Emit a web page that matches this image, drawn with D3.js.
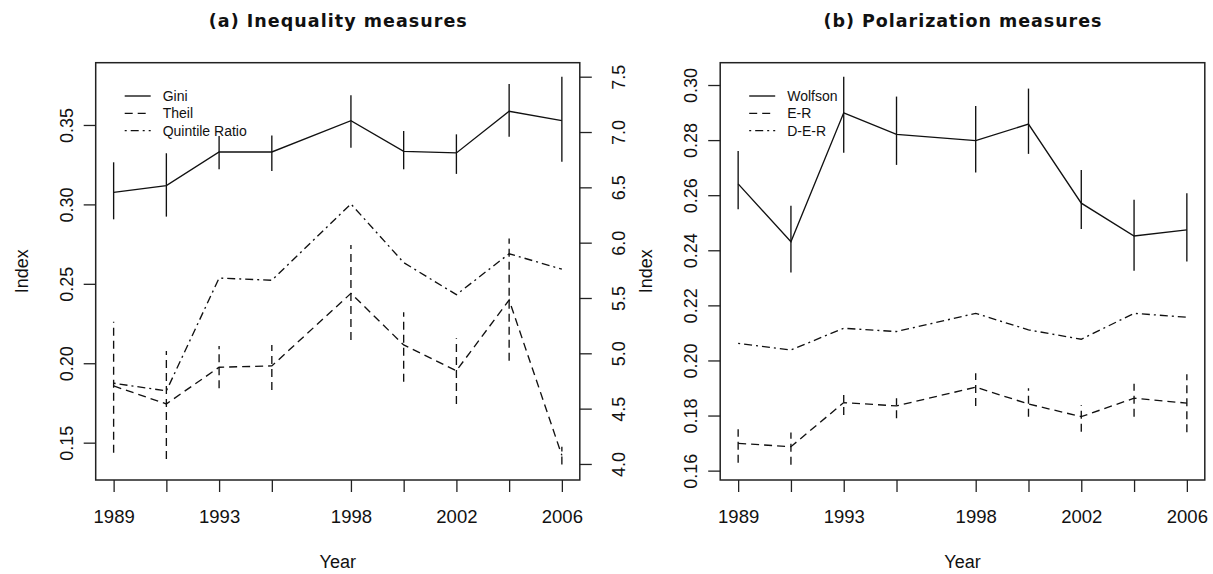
<!DOCTYPE html>
<html>
<head>
<meta charset="utf-8">
<script src="https://cdn.jsdelivr.net/npm/d3@7"></script>
<style>
  html, body { margin: 0; padding: 0; background: #fff; }
  svg { display: block; }
  text { fill: #111; }
</style>
</head>
<body>
<svg id="chart" width="1213" height="574"></svg>
<script>
// ---------- data ----------
const years = [1989, 1991, 1993, 1995, 1998, 2000, 2002, 2004, 2006];
const yearLabels = [1989, 1993, 1998, 2002, 2006];

// (a) Inequality measures
const giniVal = [0.3076, 0.3118, 0.3330, 0.3330, 0.3527, 0.3334, 0.3324, 0.3586, 0.3527];
const giniLo  = [0.2906, 0.2923, 0.3221, 0.3210, 0.3357, 0.3221, 0.3192, 0.3426, 0.3269];
const giniHi  = [0.3265, 0.3322, 0.3431, 0.3433, 0.3687, 0.3462, 0.3441, 0.3758, 0.3804];

const theilVal = [0.1857, 0.1744, 0.1975, 0.1983, 0.2440, 0.2115, 0.1953, 0.2398, 0.1420];
const theilLo  = [0.1437, 0.1397, 0.1842, 0.1832, 0.2146, 0.1884, 0.1744, 0.2015, 0.1362];
const theilHi  = [0.2261, 0.2077, 0.2109, 0.2115, 0.2745, 0.2321, 0.2157, 0.2786, 0.1475];

const quintileVal = [4.73, 4.66, 5.68, 5.66, 6.35, 5.82, 5.53, 5.90, 5.76];

// (b) Polarization measures
const wolfsonVal = [0.2641, 0.2431, 0.2899, 0.2821, 0.2798, 0.2858, 0.2571, 0.2452, 0.2474];
const wolfsonLo  = [0.2549, 0.2319, 0.2754, 0.2710, 0.2682, 0.2750, 0.2477, 0.2326, 0.2359];
const wolfsonHi  = [0.2760, 0.2562, 0.3030, 0.2958, 0.2924, 0.2987, 0.2691, 0.2583, 0.2607];

const erVal = [0.1699, 0.1687, 0.1847, 0.1835, 0.1903, 0.1842, 0.1796, 0.1863, 0.1845];
const erLo  = [0.1629, 0.1621, 0.1802, 0.1790, 0.1835, 0.1796, 0.1741, 0.1796, 0.1739];
const erHi  = [0.1750, 0.1738, 0.1875, 0.1863, 0.1954, 0.1899, 0.1838, 0.1915, 0.1950];

const derVal = [0.2062, 0.2038, 0.2117, 0.2105, 0.2171, 0.2111, 0.2077, 0.2171, 0.2157];

// tick labels
const leftTicksA = [0.15, 0.20, 0.25, 0.30, 0.35];
const rightTicksA = [4.0, 4.5, 5.0, 5.5, 6.0, 6.5, 7.0, 7.5];
const ticksB = [0.16, 0.18, 0.20, 0.22, 0.24, 0.26, 0.28, 0.30];

// ---------- layout / styles ----------
const H_TOP = 62.7, H_BOT = 480;
const panelA = { x0: 95.7, x1: 579.8 };
const panelB = { x0: 720.2, x1: 1204.8 };
const xDomain = [1988.32, 2006.68];

const styles = {
  solid: null,
  dashed: "8,5",
  dashdot: "2,4,8,4"
};
const LW = 1.35;
const FONT = "'Liberation Sans', Arial, sans-serif";

const svg = d3.select("#chart");

function drawPanel(p, opts) {
  const g = svg.append("g");
  const x = d3.scaleLinear().domain(xDomain).range([p.x0, p.x1]);
  const y = d3.scaleLinear().domain(opts.yDomain).range([H_BOT, H_TOP]);

  // x axis
  const xAxis = d3.axisBottom(x)
    .tickValues(years)
    .tickSize(12)
    .tickFormat(d => yearLabels.includes(d) ? String(d) : "");
  const gx = g.append("g").attr("transform", `translate(0,${H_BOT})`).call(xAxis);
  gx.select(".domain").remove();
  gx.selectAll(".tick line").attr("stroke", "#222").attr("stroke-width", 1.3);
  gx.selectAll(".tick text")
    .attr("y", 43).attr("dy", 0)
    .attr("font-family", FONT).attr("font-size", 18.5).attr("fill", "#111");

  // left y axis
  const yAxis = d3.axisLeft(y).tickValues(opts.yTicks).tickSize(12).tickFormat(d3.format(".2f"));
  const gy = g.append("g").attr("transform", `translate(${p.x0},0)`).call(yAxis);
  gy.select(".domain").remove();
  gy.selectAll(".tick line").attr("stroke", "#222").attr("stroke-width", 1.3);
  gy.selectAll(".tick text")
    .attr("x", 0).attr("dy", 0).attr("y", 0)
    .attr("text-anchor", "middle")
    .attr("transform", "translate(-23,0) rotate(-90)")
    .attr("font-family", FONT).attr("font-size", 18).attr("fill", "#111");

  // optional right axis
  let y2 = null;
  if (opts.y2Domain) {
    y2 = d3.scaleLinear().domain(opts.y2Domain).range([H_BOT, H_TOP]);
    const yAxis2 = d3.axisRight(y2).tickValues(opts.y2Ticks).tickSize(12).tickFormat(d3.format(".1f"));
    const gy2 = g.append("g").attr("transform", `translate(${p.x1},0)`).call(yAxis2);
    gy2.select(".domain").remove();
    gy2.selectAll(".tick line").attr("stroke", "#222").attr("stroke-width", 1.3);
    gy2.selectAll(".tick text")
      .attr("x", 0).attr("dy", 0).attr("y", 0)
      .attr("text-anchor", "middle")
      .attr("transform", "translate(45.5,0) rotate(-90)")
      .attr("font-family", FONT).attr("font-size", 18).attr("fill", "#111");
  }

  // series
  opts.series.forEach(s => {
    const sc = s.axis === 2 ? y2 : y;
    const pts = years.map((yr, i) => [yr, s.val[i]]);
    const line = d3.line().x(d => x(d[0])).y(d => sc(d[1]));
    g.append("path")
      .attr("d", line(pts))
      .attr("fill", "none")
      .attr("stroke", "#111")
      .attr("stroke-width", LW)
      .attr("stroke-dasharray", styles[s.style]);
    if (s.lo) {
      g.selectAll(null).data(years).enter().append("line")
        .attr("x1", d => x(d)).attr("x2", d => x(d))
        .attr("y1", (d, i) => sc(s.lo[i])).attr("y2", (d, i) => sc(s.hi[i]))
        .attr("stroke", "#111").attr("stroke-width", LW)
        .attr("stroke-dasharray", styles[s.style]);
    }
  });

  // box
  g.append("rect")
    .attr("x", p.x0).attr("y", H_TOP)
    .attr("width", p.x1 - p.x0).attr("height", H_BOT - H_TOP)
    .attr("fill", "none").attr("stroke", "#222").attr("stroke-width", 1.5);

  // title
  g.append("text")
    .attr("x", (p.x0 + p.x1) / 2).attr("y", 27)
    .attr("text-anchor", "middle")
    .attr("font-family", "'DejaVu Sans', Verdana, sans-serif")
    .attr("font-weight", "bold").attr("font-size", 17.5)
    .attr("textLength", opts.titleLen).attr("lengthAdjust", "spacing")
    .text(opts.title);

  // axis labels
  g.append("text")
    .attr("x", (p.x0 + p.x1) / 2).attr("y", 567.5)
    .attr("text-anchor", "middle")
    .attr("font-family", FONT).attr("font-size", 18)
    .text("Year");
  g.append("text")
    .attr("transform", `translate(${p.x0 - 68},${(H_TOP + H_BOT) / 2}) rotate(-90)`)
    .attr("text-anchor", "middle")
    .attr("font-family", FONT).attr("font-size", 18)
    .text("Index");

  // legend
  const lg = g.append("g");
  opts.series.forEach((s, i) => {
    const ly = 96 + i * 17.3;
    lg.append("line")
      .attr("x1", p.x0 + 29).attr("x2", p.x0 + 55)
      .attr("y1", ly).attr("y2", ly)
      .attr("stroke", "#111").attr("stroke-width", LW)
      .attr("stroke-dasharray", styles[s.style]);
    lg.append("text")
      .attr("x", p.x0 + 67).attr("y", ly + 5)
      .attr("font-family", FONT).attr("font-size", 14)
      .text(s.name);
  });
}

drawPanel(panelA, {
  title: "(a) Inequality measures",
  titleLen: 258,
  yDomain: [0.1265, 0.3892],
  yTicks: leftTicksA,
  y2Domain: [3.855, 7.6265],
  y2Ticks: rightTicksA,
  series: [
    { name: "Gini", val: giniVal, lo: giniLo, hi: giniHi, style: "solid", axis: 1 },
    { name: "Theil", val: theilVal, lo: theilLo, hi: theilHi, style: "dashed", axis: 1 },
    { name: "Quintile Ratio", val: quintileVal, style: "dashdot", axis: 2 }
  ]
});

drawPanel(panelB, {
  title: "(b) Polarization measures",
  titleLen: 278,
  yDomain: [0.1566, 0.3081],
  yTicks: ticksB,
  series: [
    { name: "Wolfson", val: wolfsonVal, lo: wolfsonLo, hi: wolfsonHi, style: "solid", axis: 1 },
    { name: "E-R", val: erVal, lo: erLo, hi: erHi, style: "dashed", axis: 1 },
    { name: "D-E-R", val: derVal, style: "dashdot", axis: 1 }
  ]
});
</script>
</body>
</html>
